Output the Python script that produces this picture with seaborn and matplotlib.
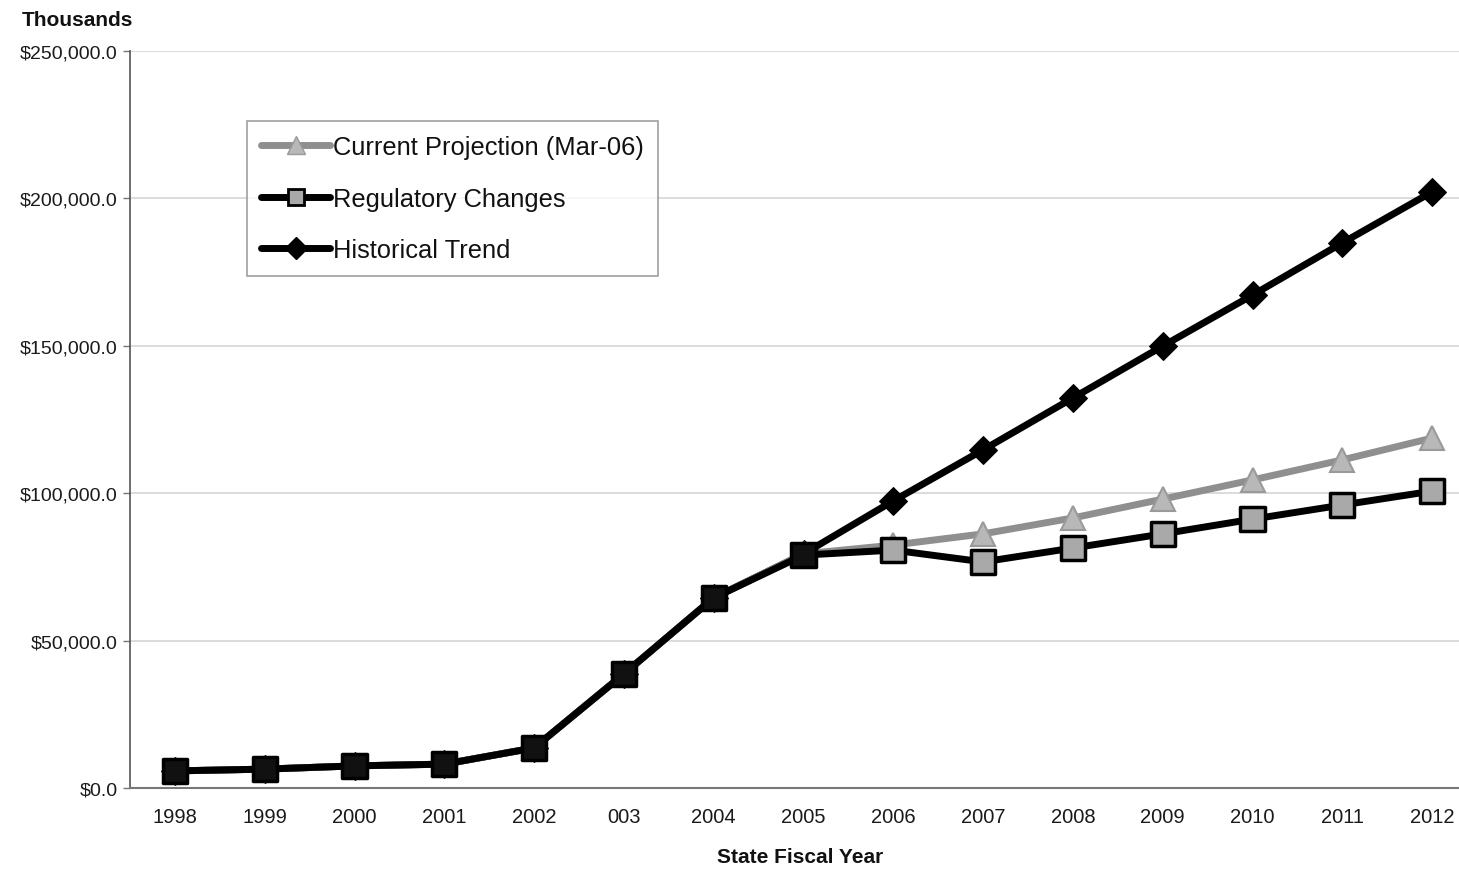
import matplotlib
matplotlib.use("Agg")
import matplotlib.pyplot as plt
import matplotlib.ticker as mticker
from matplotlib.lines import Line2D
import seaborn as sns
import pandas as pd
import numpy as np

years = [1998, 1999, 2000, 2001, 2002, 2003, 2004, 2005, 2006, 2007, 2008, 2009, 2010, 2011, 2012]
year_labels = ["1998", "1999", "2000", "2001", "2002", "003", "2004", "2005", "2006",
               "2007", "2008", "2009", "2010", "2011", "2012"]
# values in thousands of dollars
historical = [5800, 6400, 7500, 8100, 13600, 38700, 64500, 79400, 97400, 114700, 132300,
              149900, 167200, 184900, 202200]
current = [5800, 6400, 7500, 8100, 13600, 38700, 64500, 79400, 82400, 86200, 91600,
           98000, 104500, 111300, 118700]
regulatory = [5800, 6400, 7500, 8100, 13600, 38700, 64500, 79000, 80700, 76700, 81400,
              86200, 91200, 96000, 100700]
series_names = ["Current Projection (Mar-06)", "Regulatory Changes", "Historical Trend"]
y_ticks = [0, 50000, 100000, 150000, 200000, 250000]

pos = np.arange(len(years))
df_hist = pd.DataFrame({"x": pos, "y": historical})
df_cur = pd.DataFrame({"x": pos, "y": current})
df_reg = pd.DataFrame({"x": pos, "y": regulatory})

sns.set_theme(style="white")
plt.rcParams["font.family"] = ["Liberation Sans", "DejaVu Sans"]

fig = plt.figure(figsize=(14.59, 8.70), dpi=100)
ax = fig.add_axes([130 / 1459, 1 - 789 / 870, (1477 - 130) / 1459, (789 - 52) / 870])

lw = 5.0
sns.lineplot(data=df_hist, x="x", y="y", ax=ax, color="black", linewidth=lw,
             marker="D", markersize=14, markerfacecolor="black", markeredgecolor="black",
             zorder=3, legend=False)
sns.lineplot(data=df_cur, x="x", y="y", ax=ax, color="#8f8f8f", linewidth=lw,
             marker="^", markersize=17, markerfacecolor="#b8b8b8", markeredgecolor="#9a9a9a",
             markeredgewidth=1.5, zorder=4, legend=False)
sns.lineplot(data=df_reg, x="x", y="y", ax=ax, color="black", linewidth=lw,
             zorder=5, legend=False)
face = ["#111111" if yr <= 2005 else "#a9a9a9" for yr in years]
sns.scatterplot(data=df_reg, x="x", y="y", ax=ax, marker="s", s=300,
                c=face, edgecolor="black", linewidth=2.5, zorder=6, legend=False)

ax.set_xlim(-0.5, len(years) - 0.5)
ax.set_ylim(0, 250000)
ax.set_yticks(y_ticks)
ax.yaxis.set_major_formatter(mticker.FuncFormatter(lambda v, p: "${:,.1f}".format(v)))
ax.set_xticks(pos)
ax.set_xticklabels(year_labels)
ax.set_xticks(np.arange(len(years) + 1) - 0.5, minor=True)
ax.tick_params(axis="x", which="major", length=0, pad=14, labelsize=14.5, labelcolor="#1a1a1a")
ax.tick_params(axis="x", which="minor", length=5, color="#777777", width=1)
ax.tick_params(axis="y", which="major", length=5, color="#777777", width=1, pad=4,
               labelsize=14, labelcolor="#1a1a1a", left=True)

ax.grid(axis="y", color="#d5d5d5", linewidth=1.2)
ax.grid(axis="x", visible=False)
for s in ["top", "right"]:
    ax.spines[s].set_visible(False)
ax.spines["left"].set_color("#555555")
ax.spines["left"].set_linewidth(1.2)
ax.spines["bottom"].set_color("#777777")
ax.spines["bottom"].set_linewidth(1.5)

ax.set_xlabel("")
ax.set_ylabel("")
fig.text(22 / 1459, 1 - 21 / 870, "Thousands", fontsize=15, fontweight="bold",
         va="center", ha="left", color="#111111")
fig.text(800 / 1459, 1 - 858 / 870, "State Fiscal Year", fontsize=15, fontweight="bold",
         va="center", ha="center", color="#111111")

handles = [
    Line2D([], [], color="#8f8f8f", linewidth=lw, marker="^", markersize=13,
           markerfacecolor="#b8b8b8", markeredgecolor="#9a9a9a"),
    Line2D([], [], color="black", linewidth=lw, marker="s", markersize=12,
           markerfacecolor="#a9a9a9", markeredgecolor="black", markeredgewidth=2),
    Line2D([], [], color="black", linewidth=lw, marker="D", markersize=11,
           markerfacecolor="black", markeredgecolor="black"),
]
leg = ax.legend(handles, series_names, loc="upper left",
                bbox_to_anchor=((247 - 130) / (1477 - 130), 1 - (122 - 52) / (789 - 52)),
                fontsize=18.4, frameon=True, fancybox=False, shadow=False,
                handlelength=2.7, handletextpad=0.1, labelspacing=1.08,
                borderpad=0.55, borderaxespad=0)
leg.get_frame().set_edgecolor("#888888")
leg.get_frame().set_linewidth(1.2)
leg.get_frame().set_facecolor("white")
for t in leg.get_texts():
    t.set_color("#111111")

fig.savefig("out.png", dpi=100, facecolor="white")
